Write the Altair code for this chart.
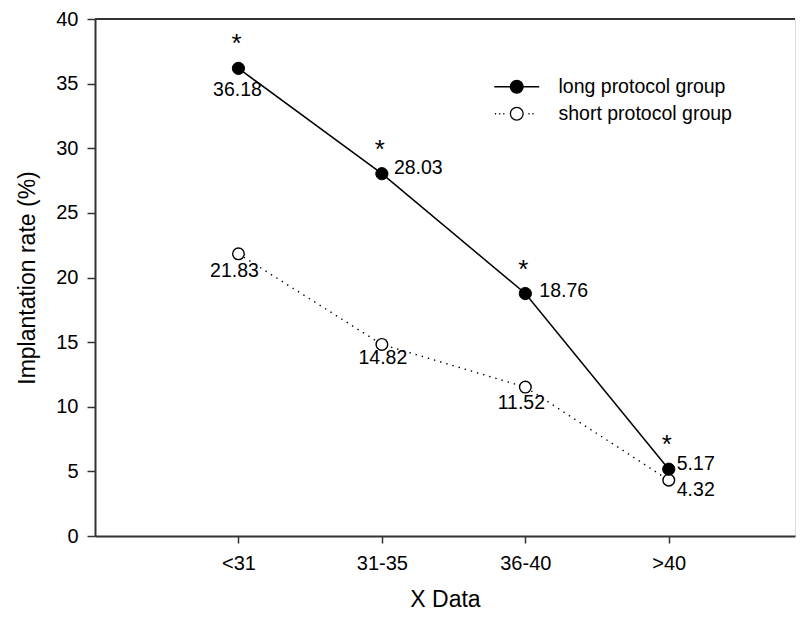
import json
import altair as alt
import pandas as pd

# ---------------- data ----------------
categories = ["<31", "31-35", "36-40", ">40"]
x_positions = [1, 2, 3, 4]
long_values = [36.18, 28.03, 18.76, 5.17]
short_values = [21.83, 14.82, 11.52, 4.32]
series_names = ["long protocol group", "short protocol group"]
y_ticks = [0, 5, 10, 15, 20, 25, 30, 35, 40]

rows = []
for cat, xp, lv, sv in zip(categories, x_positions, long_values, short_values):
    rows.append({"cat": cat, "x": xp, "value": lv, "group": series_names[0], "label": f"{lv:.2f}", "star": "*"})
    rows.append({"cat": cat, "x": xp, "value": sv, "group": series_names[1], "label": f"{sv:.2f}", "star": ""})
df = pd.DataFrame(rows)

FONT = "Liberation Sans"
AX = "#333333"

label_expr = json.dumps(categories) + "[datum.value - 1]"

x_enc = alt.X(
    "x:Q",
    scale=alt.Scale(domain=[0, 4.88], nice=False, zero=False),
    axis=alt.Axis(
        values=x_positions, labelExpr=label_expr, title="X Data", grid=False,
        tickSize=7, tickColor=AX, tickWidth=1.5, domainColor=AX, domainWidth=2,
        labelFont=FONT, labelFontSize=20, labelColor="black", labelPadding=10,
        titleFont=FONT, titleFontSize=23, titleFontWeight="normal", titleColor="black",
        titleY=63, titleBaseline="middle",
    ),
)
y_enc = alt.Y(
    "value:Q",
    scale=alt.Scale(domain=[0, 40], nice=False),
    axis=alt.Axis(
        values=y_ticks, title="Implantation rate (%)", grid=False,
        tickSize=8, tickColor=AX, tickWidth=1.5, domainColor=AX, domainWidth=2,
        labelFont=FONT, labelFontSize=20, labelColor="black", labelPadding=9,
        titleFont=FONT, titleFontSize=23, titleFontWeight="normal", titleColor="black",
        titleX=-68, titleBaseline="middle",
    ),
)

base = alt.Chart(df)
is_long = f"datum.group == '{series_names[0]}'"
is_short = f"datum.group == '{series_names[1]}'"

top_border = base.mark_rule(color=AX, strokeWidth=2).encode(y=alt.datum(40))

line_short = base.transform_filter(is_short).mark_line(
    color="black", strokeWidth=1.4, strokeDash=[1.4, 5]
).encode(x=x_enc, y=y_enc)
line_long = base.transform_filter(is_long).mark_line(
    color="black", strokeWidth=1.5
).encode(x=x_enc, y=y_enc)

pts_short = base.transform_filter(is_short).mark_point(
    shape="circle", filled=False, fill="white", stroke="black", strokeWidth=1.4, size=135, opacity=1
).encode(x=x_enc, y=y_enc)
pts_long = base.transform_filter(is_long).mark_point(
    shape="circle", filled=True, fill="black", stroke="black", strokeWidth=1, size=150, opacity=1
).encode(x=x_enc, y=y_enc)

stars = base.transform_filter(is_long).mark_text(
    font=FONT, fontSize=26, color="black", baseline="alphabetic", align="center", dy=-16, dx=-2
).encode(x=x_enc, y=y_enc, text="star:N")


def value_label(series, cat, align, dx, dy):
    return base.transform_filter(
        f"datum.group == '{series}' && datum.cat == '{cat}'"
    ).mark_text(
        font=FONT, fontSize=19.5, color="black", baseline="alphabetic", align=align, dx=dx, dy=dy
    ).encode(x=x_enc, y=y_enc, text="label:N")


labels = [
    value_label(series_names[0], categories[0], "center", -1, 28),
    value_label(series_names[0], categories[1], "left", 12, 0),
    value_label(series_names[0], categories[2], "left", 14, 3),
    value_label(series_names[0], categories[3], "left", 8, 1),
    value_label(series_names[1], categories[0], "center", -4, 23),
    value_label(series_names[1], categories[1], "center", 1, 20),
    value_label(series_names[1], categories[2], "center", -4, 22),
    value_label(series_names[1], categories[3], "left", 8, 16),
]

# legend symbols: custom paths (line + circle)
r = 0.85
circle = f"M{r},0A{r},{r} 0 1,1 -{r},0A{r},{r} 0 1,1 {r},0Z"
path_long = f"M-3,0H-{r}M{r},0H3" + circle
path_short = "M-2.9,0h0.15M-2.35,0h0.15M-1.8,0h0.15M1.55,0h0.15M2.1,0h0.15" + circle

legend_cfg = alt.Legend(
    title=None, orient="none", legendX=412, legendY=58, padding=0,
    labelFont=FONT, labelFontSize=19.5, labelColor="black", labelOffset=32, labelLimit=400,
    symbolSize=225, symbolStrokeWidth=1.3, symbolOpacity=1, rowPadding=6,
)
legend_layer = base.transform_filter("datum.value < 0").mark_point(
    filled=True, strokeWidth=1.3, size=225, opacity=1
).encode(
    shape=alt.Shape("group:N", scale=alt.Scale(domain=series_names, range=[path_long, path_short]), legend=legend_cfg),
    fill=alt.Fill("group:N", scale=alt.Scale(domain=series_names, range=["black", "white"]), legend=legend_cfg),
    stroke=alt.Stroke("group:N", scale=alt.Scale(domain=series_names, range=["black", "black"]), legend=legend_cfg),
)

chart = alt.layer(
    top_border, line_short, line_long, pts_short, pts_long, stars, *labels, legend_layer
).properties(
    width=700, height=517,
    autosize=alt.AutoSizeParams(type="none"),
    padding={"left": 87, "top": 11, "right": 3, "bottom": 76},
).configure_view(stroke=None).configure(background="white")

chart.save("out.html", embed_options={"renderer": "svg", "actions": False})
